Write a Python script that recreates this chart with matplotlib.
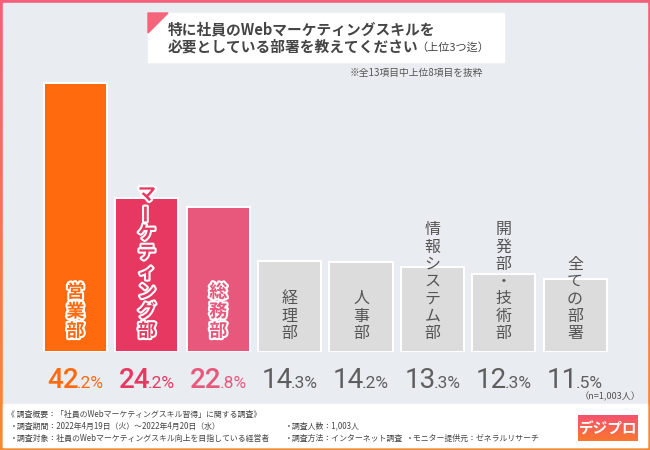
import matplotlib
matplotlib.use('Agg')
import matplotlib.pyplot as plt
import numpy as np
from matplotlib.patches import Rectangle, Polygon
from matplotlib.colors import LinearSegmentedColormap
import matplotlib.patheffects as pe

plt.rcParams['font.family'] = ['Noto Sans CJK JP', 'DejaVu Sans']

# ---------------- data ----------------
categories = ['営業部', 'マーケティング部', '総務部', '経理部', '人事部',
              '情報システム部', '開発部・技術部', '全ての部署']
values = [42.2, 24.2, 22.8, 14.3, 14.2, 13.3, 12.3, 11.5]
bar_colors = ['#FF6A0E', '#E63860', '#E8587C',
              '#DCDCDC', '#DCDCDC', '#DCDCDC', '#DCDCDC', '#DCDCDC']
value_colors = ['#FF6A0E', '#E63860', '#E8587C',
                '#5E5E5E', '#5E5E5E', '#5E5E5E', '#5E5E5E', '#5E5E5E']
highlight = [True, True, True, False, False, False, False, False]

title_line1 = '特に社員のWebマーケティングスキルを'
title_line2 = '必要としている部署を教えてください'
title_suffix = '（上位3つ迄）'
note_text = '※全13項目中上位8項目を抜粋'
n_text = '（n=1,003人）'
footer_title = '《 調査概要：「社員のWebマーケティングスキル習得」に関する調査》'
footer_left = ['・調査期間：2022年4月19日（火）～2022年4月20日（水）',
               '・調査対象：社員のWebマーケティングスキル向上を目指している経営者']
footer_mid = ['・調査人数：1,003人', '・調査方法：インターネット調査']
footer_right = ['', '・モニター提供元：ゼネラルリサーチ']
logo_text = 'デジプロ'

num_family = ['Roboto', 'DejaVu Sans']

# ---------------- figure ----------------
W, H = 650, 450
fig = plt.figure(figsize=(6.5, 4.5), dpi=100)
renderer = fig.canvas.get_renderer()

bg = fig.add_axes([0, 0, 1, 1])
bg.axis('off')
cmap = LinearSegmentedColormap.from_list('frame', ['#F4607A', '#F98A2C'])
grad = np.linspace(0, 1, 256)[:, None]
bg.imshow(grad, extent=[0, W, H, 0], cmap=cmap, aspect='auto', zorder=0)
bg.add_patch(Rectangle((3, 3), W - 6, H - 6, color='#E9ECF1', zorder=1))
bg.add_patch(Rectangle((3, 404), W - 6, 43, color='white', zorder=1))

# title box
bg.add_patch(Rectangle((148, 13), 356, 49, color='white', zorder=2))
bg.add_patch(Polygon([(148, 13), (168, 13), (148, 33)], closed=True,
                     color='#F4647A', zorder=3))
bg.text(168, 29, title_line1, fontsize=10.6, fontweight='bold', color='#454545',
        ha='left', va='center', zorder=4)
t2 = bg.text(168, 47, title_line2, fontsize=10.6, fontweight='bold', color='#454545',
             ha='left', va='center', zorder=4)
w2 = t2.get_window_extent(renderer).width
bg.text(168 + w2 - 2, 47.5, title_suffix, fontsize=8, color='#454545',
        ha='left', va='center', zorder=4)
bg.text(483, 73, note_text, fontsize=7, color='#555555', ha='right',
        va='center', zorder=4)
bg.text(641, 397, n_text, fontsize=6.6, color='#555555', ha='right',
        va='center', zorder=4)

# footer
FS = 5.7
bg.text(7, 414, footer_title, fontsize=FS, color='#444444', ha='left',
        va='center', zorder=4)
for k in range(2):
    y = 426 + 12 * k
    bg.text(10, y, footer_left[k], fontsize=FS, color='#444444', ha='left',
            va='center', zorder=4)
    bg.text(285, y, footer_mid[k], fontsize=FS, color='#444444', ha='left',
            va='center', zorder=4)
    if footer_right[k]:
        bg.text(406, y, footer_right[k], fontsize=FS, color='#444444',
                ha='left', va='center', zorder=4)

# logo
lcmap = LinearSegmentedColormap.from_list('logo', ['#F65270', '#F9772E'])
bg.imshow(grad, extent=[578, 638, 441, 415], cmap=lcmap, aspect='auto', zorder=3)
bg.text(608, 428.5, logo_text, fontsize=10.5, fontweight='bold', color='white',
        ha='center', va='center', zorder=4)

bg.set_xlim(0, W)
bg.set_ylim(H, 0)

# ---------------- bars ----------------
ax = fig.add_axes([39.8 / W, 98 / H, 571 / W, 318.5 / H])
ax.set_xlim(-0.5, 7.5)
ax.set_ylim(0, 50)
ax.axis('off')
ax.patch.set_alpha(0)
x = np.arange(len(values))
ax.bar(x, values, width=0.885, color=bar_colors, edgecolor='white',
       linewidth=1.4, zorder=2)

PT = 0.72  # points per pixel at 100 dpi

# vertical labels inside bars
for i, (cat, hl) in enumerate(zip(categories, highlight)):
    chars = list(cat)
    n = len(chars)
    if hl:
        step, base, fs, fw = 19.5, 21, 13, 'bold'
        col = bar_colors[i]
        eff = [pe.withStroke(linewidth=3, foreground='white')]
    else:
        step, base, fs, fw = 17.3, 18.5, 11.5, 'normal'
        col = '#555555'
        eff = None
    for j, ch in enumerate(chars):
        yoff = base + step * (n - 1 - j)
        rot = 90 if ch == 'ー' else 0
        t = ax.annotate(ch, xy=(i, 0), xytext=(0, yoff * PT),
                        textcoords='offset points', ha='center', va='center',
                        fontsize=fs, fontweight=fw, color=col, rotation=rot,
                        zorder=5)
        if eff:
            t.set_path_effects(eff)

# value labels with large integer part
for i, v in enumerate(values):
    s = f'{v:.1f}'
    ip, dp = s.split('.')
    dp = '.' + dp + '%'
    fw = 'medium' if highlight[i] else 'normal'
    ta = ax.annotate(ip, xy=(i, 0), xytext=(0, -36 * PT), textcoords='offset points',
                     ha='left', va='baseline', fontsize=20, fontweight=fw,
                     family=num_family, color=value_colors[i])
    tb = ax.annotate(dp, xy=(i, 0), xytext=(0, -36 * PT), textcoords='offset points',
                     ha='left', va='baseline', fontsize=12.5, fontweight='normal',
                     family=num_family, color=value_colors[i])
    wa = ta.get_window_extent(renderer).width
    wb = tb.get_window_extent(renderer).width
    gap = -2
    start = -(wa + wb + gap) / 2
    ta.set_position((start * PT, -36 * PT))
    tb.set_position(((start + wa + gap) * PT, -36 * PT))

fig.savefig('out.png', dpi=100)
